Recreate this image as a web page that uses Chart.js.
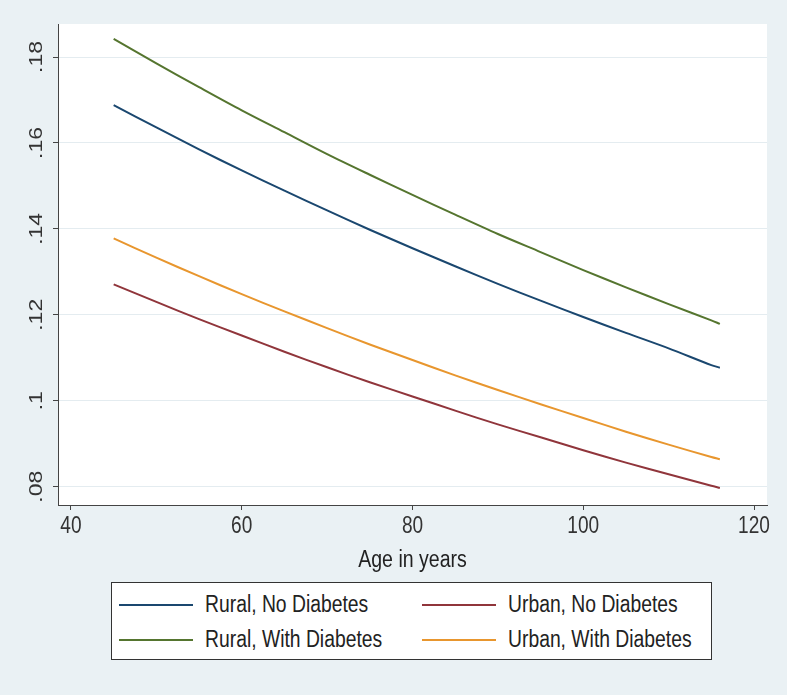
<!DOCTYPE html>
<html>
<head>
<meta charset="utf-8">
<script src="https://cdn.jsdelivr.net/npm/chart.js@4.4.0/dist/chart.umd.min.js"></script>
<style>
  body { margin: 0; background: #eaf1f4; overflow: hidden; }
  .wrap { position: relative; width: 787px; height: 695px; }
  .legend {
    position: absolute; left: 111px; top: 582px; width: 601px; height: 78px;
    background: #fff; border: 1.5px solid #333;
    display: grid; grid-template-columns: 303px auto; grid-auto-rows: 35px;
    padding: 4px 0 0 7px; box-sizing: border-box;
    font: 23px "Liberation Sans", Arial, sans-serif;
    color: #222;
  }
  .legend .item { display: flex; align-items: center; white-space: nowrap; }
  .legend .swatch { width: 74px; height: 2px; margin-right: 12px; flex: none; }
  .legend .text { display: inline-block; transform: scaleX(0.84); transform-origin: left center; }
</style>
</head>
<body>
<div class="wrap">
  <canvas id="probChart"></canvas>
  <div class="legend" id="legend"></div>
</div>
<script>
const ages = [45, 50, 55, 60, 65, 70, 75, 80, 85, 90, 95, 100, 105, 110, 115, 116];
const ruralNoDiabetes = [0.1688, 0.1636, 0.1585, 0.1536, 0.1489, 0.1443, 0.1398, 0.1355, 0.1313, 0.1272, 0.1233, 0.1195, 0.1158, 0.1122, 0.1083, 0.1077];
const urbanNoDiabetes = [0.1271, 0.1230, 0.1190, 0.1152, 0.1114, 0.1078, 0.1043, 0.1010, 0.0977, 0.0945, 0.0915, 0.0885, 0.0856, 0.0829, 0.0802, 0.0797];
const ruralWithDiabetes = [0.1842, 0.1785, 0.1730, 0.1676, 0.1625, 0.1574, 0.1526, 0.1479, 0.1433, 0.1388, 0.1346, 0.1304, 0.1264, 0.1225, 0.1187, 0.1179];
const urbanWithDiabetes = [0.1378, 0.1333, 0.1290, 0.1248, 0.1208, 0.1169, 0.1131, 0.1095, 0.1059, 0.1025, 0.0992, 0.0960, 0.0928, 0.0898, 0.0869, 0.0864];

const xTicks = [40, 60, 80, 100, 120];
const xTickLabels = ["40", "60", "80", "100", "120"];
const yTicks = [0.08, 0.1, 0.12, 0.14, 0.16, 0.18];
const yTickLabels = [".08", ".1", ".12", ".14", ".16", ".18"];
const xTitle = "Age in years";

const font = '23px "Liberation Sans", Arial, sans-serif';
const squeeze = 0.83; // the original picture is squashed sideways

function points(values) {
  return ages.map((a, i) => ({ x: a, y: values[i] }));
}

// white plot region + Stata-like axis labels
const plotRegion = {
  id: "plotRegion",
  beforeDraw(chart) {
    const { ctx, chartArea: a } = chart;
    ctx.save();
    ctx.fillStyle = "#fff";
    ctx.fillRect(a.left, a.top, a.right - a.left, a.bottom - a.top);
    ctx.restore();
  },
  afterDraw(chart) {
    const { ctx, chartArea: a } = chart;
    const xs = chart.scales.x;
    const ys = chart.scales.y;
    ctx.save();
    ctx.font = font;
    ctx.textAlign = "center";
    ctx.textBaseline = "alphabetic";

    ctx.fillStyle = "#333";
    yTicks.forEach((v, i) => {
      ctx.save();
      ctx.translate(a.left - 16, ys.getPixelForValue(v));
      ctx.rotate(-Math.PI / 2);
      ctx.scale(1, squeeze);
      ctx.fillText(yTickLabels[i], 0, 0);
      ctx.restore();
    });

    xTicks.forEach((v, i) => {
      ctx.save();
      ctx.translate(xs.getPixelForValue(v), a.bottom + 28);
      ctx.scale(squeeze, 1);
      ctx.fillText(xTickLabels[i], 0, 0);
      ctx.restore();
    });

    ctx.fillStyle = "#222";
    ctx.save();
    ctx.translate((a.left + a.right) / 2, a.bottom + 62);
    ctx.scale(0.85, 1);
    ctx.fillText(xTitle, 0, 0);
    ctx.restore();

    ctx.restore();
  },
};

const ctx = document.getElementById("probChart").getContext("2d");
const chart = new Chart(ctx, {
  type: "line",
  data: {
    datasets: [
      { label: "Rural, No Diabetes", data: points(ruralNoDiabetes), borderColor: "#1a476f" },
      { label: "Urban, No Diabetes", data: points(urbanNoDiabetes), borderColor: "#90353b" },
      { label: "Rural, With Diabetes", data: points(ruralWithDiabetes), borderColor: "#55752f" },
      { label: "Urban, With Diabetes", data: points(urbanWithDiabetes), borderColor: "#e8962e" },
    ],
  },
  options: {
    responsive: true,
    maintainAspectRatio: false,
    animation: false,
    layout: { padding: { top: 24, right: 20, left: 0, bottom: 110 } },
    elements: {
      point: { radius: 0 },
      line: { borderWidth: 2, tension: 0.3 },
    },
    plugins: {
      legend: { display: false },
      tooltip: { enabled: false },
    },
    scales: {
      x: {
        type: "linear",
        min: 38.48,
        max: 121.52,
        afterBuildTicks: (s) => { s.ticks = xTicks.map((v) => ({ value: v })); },
        afterFit: (s) => { s.height = 80; },
        grid: { drawOnChartArea: false, drawTicks: true, tickLength: 5, tickColor: "#444" },
        border: { color: "#444", width: 1 },
        ticks: { display: false },
      },
      y: {
        min: 0.07574,
        max: 0.18768,
        afterBuildTicks: (s) => { s.ticks = yTicks.map((v) => ({ value: v })); },
        afterFit: (s) => { s.width = 58; },
        grid: { color: "#e4ecf0", lineWidth: 1, drawTicks: true, tickLength: 5, tickColor: "#444" },
        border: { color: "#444", width: 1 },
        ticks: { display: false },
      },
    },
  },
  plugins: [plotRegion],
});

// legend box, two columns like the Stata key
const legend = document.getElementById("legend");
chart.data.datasets.forEach((ds) => {
  const item = document.createElement("div");
  item.className = "item";
  const swatch = document.createElement("span");
  swatch.className = "swatch";
  swatch.style.background = ds.borderColor;
  const label = document.createElement("span");
  label.className = "text";
  label.textContent = ds.label;
  item.append(swatch, label);
  legend.appendChild(item);
});
</script>
</body>
</html>
